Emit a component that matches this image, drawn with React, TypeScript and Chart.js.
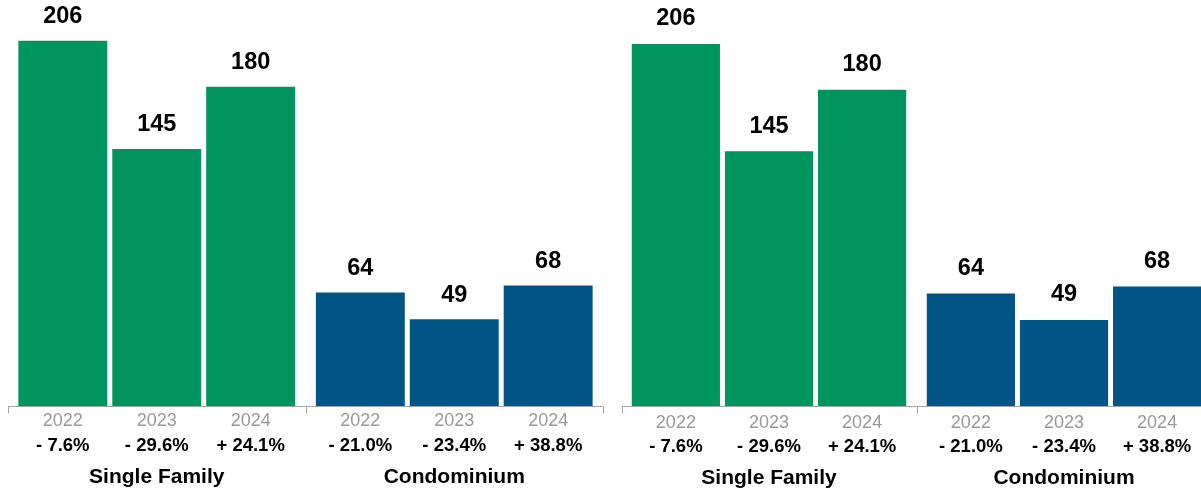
import React, { useEffect, useRef } from "react";
import { Chart, registerables } from "chart.js";

Chart.register(...registerables);

const groups = ["Single Family", "Condominium"];
const years = ["2022", "2023", "2024"];
const singleFamily = [206, 145, 180];
const condominium = [64, 49, 68];
const singleFamilyChange = ["- 7.6%", "- 29.6%", "+ 24.1%"];
const condominiumChange = ["- 21.0%", "- 23.4%", "+ 38.8%"];
const groupColors = ["#00955F", "#005486"];

const FONT = "'Liberation Sans', Arial, Helvetica, sans-serif";

type PanelCfg = {
  yMax: number;
  yearY: number;
  pctY: number;
  groupY: number;
  valueGap: number;
  padLeft: number;
  padRight: number;
};

function makeChart(canvas: HTMLCanvasElement, cfg: PanelCfg) {
  const changes = [singleFamilyChange, condominiumChange];
  const labelsPlugin = {
    id: "labels",
    afterDatasetsDraw(chart: any) {
      const ctx = chart.ctx as CanvasRenderingContext2D;
      const area = chart.chartArea;
      const xs = chart.scales.x;
      ctx.save();
      ctx.strokeStyle = "#a6a6a6";
      ctx.lineWidth = 1;
      ctx.beginPath();
      const base = Math.round(area.bottom) + 0.5;
      ctx.moveTo(area.left, base);
      ctx.lineTo(area.right, base);
      const bounds = [area.left, (xs.getPixelForValue(0) + xs.getPixelForValue(1)) / 2, area.right];
      bounds.forEach((b: number) => {
        const bx = Math.round(b) + 0.5;
        ctx.moveTo(bx, base);
        ctx.lineTo(bx, base + 7);
      });
      ctx.stroke();

      ctx.textAlign = "center";
      ctx.textBaseline = "middle";
      chart.data.datasets.forEach((ds: any, di: number) => {
        const meta = chart.getDatasetMeta(di);
        meta.data.forEach((el: any, gi: number) => {
          const v = ds.data[gi];
          ctx.fillStyle = "#000";
          ctx.font = `bold 23.5px ${FONT}`;
          ctx.fillText(String(v), el.x, el.y - cfg.valueGap);
          ctx.fillStyle = "#999999";
          ctx.font = `18px ${FONT}`;
          ctx.fillText(years[di], el.x, cfg.yearY);
          ctx.fillStyle = "#000";
          ctx.font = `bold 18.5px ${FONT}`;
          ctx.fillText(changes[gi][di], el.x, cfg.pctY);
        });
      });
      ctx.font = `bold 21px ${FONT}`;
      ctx.fillStyle = "#000";
      groups.forEach((g, gi) => {
        ctx.fillText(g, xs.getPixelForValue(gi), cfg.groupY);
      });
      ctx.restore();
    },
  };

  return new Chart(canvas, {
    type: "bar",
    data: {
      labels: groups,
      datasets: years.map((y, i) => ({
        label: y,
        data: [singleFamily[i], condominium[i]],
        backgroundColor: groupColors,
        borderWidth: 0,
        categoryPercentage: 0.947,
        barPercentage: 0.947,
      })),
    },
    options: {
      responsive: false,
      animation: false,
      devicePixelRatio: 1,
      layout: { padding: { left: cfg.padLeft, right: cfg.padRight, top: 0, bottom: 86 } },
      plugins: { legend: { display: false }, tooltip: { enabled: false } },
      scales: {
        x: { display: false },
        y: { display: false, min: 0, max: cfg.yMax },
      },
    },
    plugins: [labelsPlugin],
  } as any);
}

function Panel({ left, cfg }: { left: number; cfg: PanelCfg }) {
  const ref = useRef<HTMLCanvasElement>(null);
  useEffect(() => {
    if (!ref.current) return;
    const c = makeChart(ref.current, cfg);
    return () => c.destroy();
  }, []);
  return (
    <canvas
      ref={ref}
      width={615}
      height={492}
      style={{ position: "absolute", left, top: 0, width: 615, height: 492 }}
    />
  );
}

export default function App() {
  return (
    <div
      style={{
        position: "absolute",
        left: 0,
        top: 0,
        width: 1201,
        height: 492,
        overflow: "hidden",
        background: "#fff",
      }}
    >
      <Panel
        left={0}
        cfg={{ yMax: 229, yearY: 421, pctY: 446, groupY: 477, valueGap: 24, padLeft: 8, padRight: 12 }}
      />
      <Panel
        left={615}
        cfg={{ yMax: 231, yearY: 423, pctY: 447, groupY: 478, valueGap: 25, padLeft: 6.5, padRight: 18.5 }}
      />
    </div>
  );
}
